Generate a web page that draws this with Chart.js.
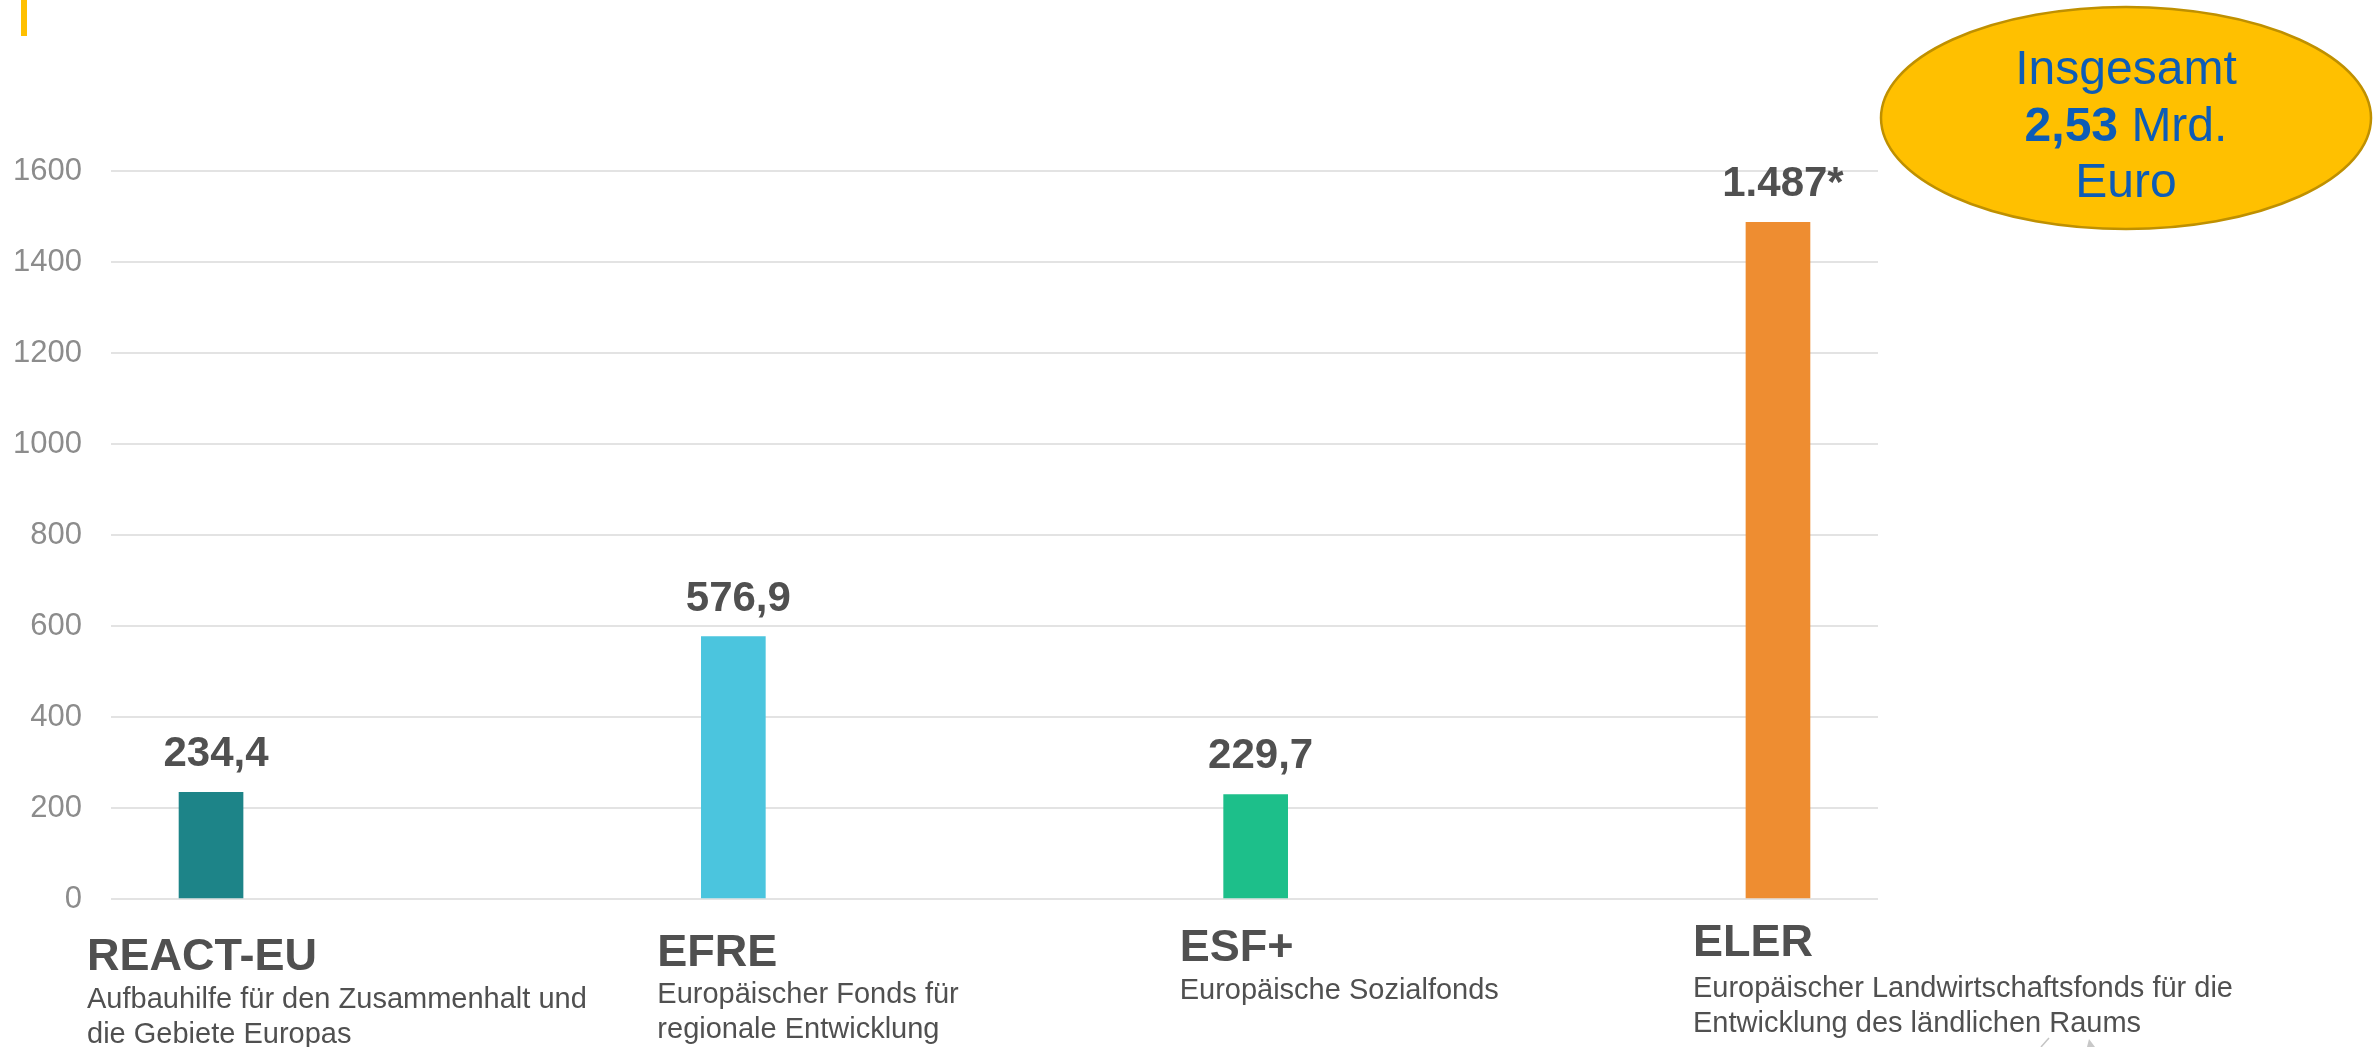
<!DOCTYPE html>
<html lang="de">
<head>
    <meta charset="UTF-8">
    <title>EU-Fonds</title>
    <script src="https://cdn.jsdelivr.net/npm/chart.js"></script>
    <style>
        html, body {
            margin: 0;
            padding: 0;
            background: #ffffff;
        }

        #fondsCanvas {
            display: block;
        }
    </style>
</head>
<body>
<canvas id="fondsCanvas" width="2374" height="1047"></canvas>

<script>
    // Daten
    const categories = ['REACT-EU', 'EFRE', 'ESF+', 'ELER'];
    const subtitles = [
        ['Aufbauhilfe für den Zusammenhalt und', 'die Gebiete Europas'],
        ['Europäischer Fonds für', 'regionale Entwicklung'],
        ['Europäische Sozialfonds'],
        ['Europäischer Landwirtschaftsfonds für die', 'Entwicklung des ländlichen Raums']
    ];
    const values = [234.4, 576.9, 229.7, 1487];
    const valueLabels = ['234,4', '576,9', '229,7', '1.487*'];
    const barColors = ['#1d8488', '#4bc5de', '#1dbf8a', '#ee8d31'];
    const yTickStep = 200;
    const yMax = 1600;
    const totalLines = [['Insgesamt'], ['2,53', ' Mrd.'], ['Euro']];

    const FONT = "'Liberation Sans', Arial, sans-serif";
    const TEXT_GREY = '#505050';

    // Layout der Beschriftungen unter den Balken (relativ zur Balkenmitte)
    const labelShift = [-124, -76, -76, -85];
    const titleY = [970, 966, 961, 956];
    const subY = [1008, 1003, 999, 997];

    const valueLabelPlugin = {
        id: 'valueLabels',
        afterDatasetsDraw(chart) {
            const ctx = chart.ctx;
            const meta = chart.getDatasetMeta(0);
            ctx.save();
            ctx.fillStyle = TEXT_GREY;
            ctx.font = 'bold 42px ' + FONT;
            ctx.textAlign = 'center';
            ctx.textBaseline = 'alphabetic';
            meta.data.forEach((bar, i) => {
                ctx.fillText(valueLabels[i], bar.x + 5, bar.y - 26);
            });
            ctx.restore();
        }
    };

    const categoryPlugin = {
        id: 'categoryLabels',
        afterDraw(chart) {
            const ctx = chart.ctx;
            const xScale = chart.scales.x;
            ctx.save();
            ctx.fillStyle = TEXT_GREY;
            ctx.textAlign = 'left';
            ctx.textBaseline = 'alphabetic';
            categories.forEach((name, i) => {
                const x = xScale.getPixelForValue(i) + labelShift[i];
                ctx.font = 'bold 45px ' + FONT;
                ctx.fillText(name, x, titleY[i]);
                ctx.font = '29px ' + FONT;
                subtitles[i].forEach((line, j) => {
                    ctx.fillText(line, x, subY[i] + j * 35);
                });
            });
            ctx.restore();
        }
    };

    // Dekoration: gelber Balken oben links, Ellipse mit Gesamtsumme
    const decorPlugin = {
        id: 'decor',
        afterDraw(chart) {
            const ctx = chart.ctx;
            ctx.save();

            ctx.fillStyle = '#ffc000';
            ctx.fillRect(21, 0, 6, 36);

            ctx.beginPath();
            ctx.ellipse(2126, 118, 245, 111, 0, 0, Math.PI * 2);
            ctx.fillStyle = '#ffc000';
            ctx.fill();
            ctx.lineWidth = 2.5;
            ctx.strokeStyle = '#bf9000';
            ctx.stroke();

            ctx.fillStyle = '#0d5cb6';
            ctx.textBaseline = 'alphabetic';
            const baselines = [84, 141, 197];
            totalLines.forEach((parts, i) => {
                const fonts = parts.map((p, j) => (parts.length > 1 && j === 0 ? 'bold ' : '') + '48px ' + FONT);
                const widths = parts.map((p, j) => {
                    ctx.font = fonts[j];
                    return ctx.measureText(p).width;
                });
                let x = 2126 - widths.reduce((a, b) => a + b, 0) / 2;
                ctx.textAlign = 'left';
                parts.forEach((p, j) => {
                    ctx.font = fonts[j];
                    ctx.fillText(p, x, baselines[i]);
                    x += widths[j];
                });
            });

            // angeschnittene Form am unteren Rand
            ctx.strokeStyle = '#c4c4c4';
            ctx.lineWidth = 1.5;
            ctx.beginPath();
            ctx.moveTo(2041, 1047);
            ctx.lineTo(2049, 1038);
            ctx.stroke();
            ctx.fillStyle = '#c8c8c8';
            ctx.beginPath();
            ctx.moveTo(2087, 1047);
            ctx.lineTo(2089, 1039);
            ctx.lineTo(2095, 1047);
            ctx.closePath();
            ctx.fill();

            ctx.restore();
        }
    };

    function initializeChart() {
        const ctx = document.getElementById('fondsCanvas').getContext('2d');
        new Chart(ctx, {
            type: 'bar',
            data: {
                datasets: [{
                    data: values.map((v, i) => ({x: i, y: v})),
                    backgroundColor: barColors,
                    borderWidth: 0,
                    barThickness: 64
                }]
            },
            options: {
                responsive: false,
                devicePixelRatio: 1,
                animation: false,
                layout: {
                    padding: {top: 171, right: 496, bottom: 148, left: 0}
                },
                plugins: {
                    legend: {display: false},
                    tooltip: {enabled: false}
                },
                scales: {
                    x: {
                        type: 'linear',
                        offset: false,
                        min: -0.1915,
                        max: 3.1915,
                        display: false
                    },
                    y: {
                        min: 0,
                        max: yMax,
                        ticks: {
                            stepSize: yTickStep,
                            color: '#8c8c8c',
                            padding: 29,
                            font: {size: 31, family: FONT},
                            callback: (value) => String(value)
                        },
                        grid: {
                            color: '#e3e3e3',
                            lineWidth: 2,
                            drawTicks: false
                        },
                        border: {display: false},
                        afterFit(scale) {
                            scale.width = 111;
                        }
                    }
                }
            },
            plugins: [valueLabelPlugin, categoryPlugin, decorPlugin]
        });
    }

    window.onload = () => {
        initializeChart();
    };
</script>
</body>
</html>
